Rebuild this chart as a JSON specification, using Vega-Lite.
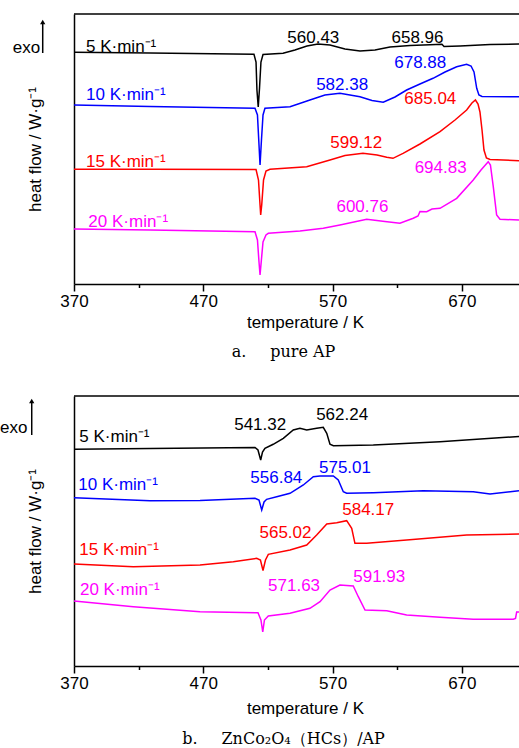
{
  "$schema": "https://vega.github.io/schema/vega-lite/v6.json",
  "padding": {"left": 0, "top": 13, "right": 0, "bottom": 0},
  "bounds": "flush",
  "spacing": 112,
  "config": {
    "view": {"stroke": null},
    "axis": {"domainColor": "black", "domainWidth": 1.5, "tickColor": "black", "tickWidth": 1.5, "labelColor": "black", "titleColor": "black", "labelFont": "Liberation Sans", "titleFont": "Liberation Sans", "labelFontSize": 17, "titleFontSize": 17, "titleFontWeight": "normal", "grid": false},
    "text": {"font": "Liberation Sans", "fontSize": 17},
    "title": {"font": "DejaVu Serif", "fontSize": 16, "fontWeight": "normal", "color": "black", "orient": "bottom", "frame": "group", "anchor": "middle", "dx": -13, "offset": 14}
  },
  "vconcat": [
    {
      "width": 445, "height": 270,
      "title": {"text": "a.\u2003\u2002pure AP"},
      "layer": [
        {
          "data": {"values": [
            {"T":370,"hf":231.7,"rate":"5"},{"T":428.8,"hf":231,"rate":"5"},{"T":509.2,"hf":229.7,"rate":"5"},{"T":510.8,"hf":222,"rate":"5"},{"T":511.5,"hf":194,"rate":"5"},{"T":512.5,"hf":177,"rate":"5"},{"T":513.5,"hf":196,"rate":"5"},{"T":514.6,"hf":222,"rate":"5"},{"T":516.2,"hf":229.5,"rate":"5"},{"T":531.7,"hf":230.7,"rate":"5"},{"T":540.9,"hf":234,"rate":"5"},{"T":550.2,"hf":238,"rate":"5"},{"T":558.7,"hf":240,"rate":"5"},{"T":568,"hf":239,"rate":"5"},{"T":579.6,"hf":235,"rate":"5"},{"T":591.2,"hf":233,"rate":"5"},{"T":602.8,"hf":234,"rate":"5"},{"T":614.4,"hf":237,"rate":"5"},{"T":629.9,"hf":238.5,"rate":"5"},{"T":645.3,"hf":239.2,"rate":"5"},{"T":654.6,"hf":239.7,"rate":"5"},{"T":656.2,"hf":237.5,"rate":"5"},{"T":668.6,"hf":238,"rate":"5"},{"T":691.8,"hf":239.5,"rate":"5"},{"T":714.2,"hf":240,"rate":"5"},
            {"T":370,"hf":179,"rate":"10"},{"T":428.8,"hf":177.5,"rate":"10"},{"T":510,"hf":175.7,"rate":"10"},{"T":511.9,"hf":169,"rate":"10"},{"T":513.1,"hf":139,"rate":"10"},{"T":513.9,"hf":119,"rate":"10"},{"T":515,"hf":144,"rate":"10"},{"T":516.2,"hf":169,"rate":"10"},{"T":517.7,"hf":175.7,"rate":"10"},{"T":537.1,"hf":177.3,"rate":"10"},{"T":552.5,"hf":184,"rate":"10"},{"T":564.1,"hf":189,"rate":"10"},{"T":575.7,"hf":190.7,"rate":"10"},{"T":591.2,"hf":187.3,"rate":"10"},{"T":600.5,"hf":183.5,"rate":"10"},{"T":609.2,"hf":181.7,"rate":"10"},{"T":618.3,"hf":187,"rate":"10"},{"T":627.3,"hf":194,"rate":"10"},{"T":637.6,"hf":200,"rate":"10"},{"T":647.7,"hf":205.7,"rate":"10"},{"T":657,"hf":212,"rate":"10"},{"T":666,"hf":217.3,"rate":"10"},{"T":673.7,"hf":219.7,"rate":"10"},{"T":677.1,"hf":218,"rate":"10"},{"T":679.4,"hf":212,"rate":"10"},{"T":681.5,"hf":195.7,"rate":"10"},{"T":683.2,"hf":189,"rate":"10"},{"T":685.6,"hf":187.5,"rate":"10"},{"T":714.2,"hf":187.3,"rate":"10"},
            {"T":370,"hf":114.7,"rate":"15"},{"T":428.8,"hf":114.7,"rate":"15"},{"T":510.8,"hf":114.5,"rate":"15"},{"T":512.7,"hf":104,"rate":"15"},{"T":513.9,"hf":79,"rate":"15"},{"T":514.4,"hf":69,"rate":"15"},{"T":515.2,"hf":79,"rate":"15"},{"T":516.6,"hf":104,"rate":"15"},{"T":518.5,"hf":113,"rate":"15"},{"T":521.6,"hf":114.7,"rate":"15"},{"T":550,"hf":117.3,"rate":"15"},{"T":568,"hf":124,"rate":"15"},{"T":579.6,"hf":128.5,"rate":"15"},{"T":593.5,"hf":130.7,"rate":"15"},{"T":604.4,"hf":129,"rate":"15"},{"T":611.9,"hf":126.7,"rate":"15"},{"T":616.7,"hf":125.7,"rate":"15"},{"T":624.5,"hf":130.7,"rate":"15"},{"T":637.6,"hf":140,"rate":"15"},{"T":653.1,"hf":152.3,"rate":"15"},{"T":664.7,"hf":164,"rate":"15"},{"T":673.7,"hf":174,"rate":"15"},{"T":677.8,"hf":181,"rate":"15"},{"T":680.5,"hf":184,"rate":"15"},{"T":682.5,"hf":180,"rate":"15"},{"T":684,"hf":172,"rate":"15"},{"T":685.6,"hf":154,"rate":"15"},{"T":687.1,"hf":134,"rate":"15"},{"T":689,"hf":126,"rate":"15"},{"T":691.8,"hf":124.5,"rate":"15"},{"T":714.2,"hf":123.3,"rate":"15"},
            {"T":370,"hf":55,"rate":"20"},{"T":428.8,"hf":54,"rate":"20"},{"T":510,"hf":52.3,"rate":"20"},{"T":511.9,"hf":44,"rate":"20"},{"T":513.1,"hf":22,"rate":"20"},{"T":513.9,"hf":9,"rate":"20"},{"T":514.8,"hf":22,"rate":"20"},{"T":516.2,"hf":42,"rate":"20"},{"T":518.5,"hf":49,"rate":"20"},{"T":520.3,"hf":50.7,"rate":"20"},{"T":544.8,"hf":53,"rate":"20"},{"T":562.8,"hf":55.7,"rate":"20"},{"T":575.7,"hf":59,"rate":"20"},{"T":596.4,"hf":64.7,"rate":"20"},{"T":610.5,"hf":62.5,"rate":"20"},{"T":622.1,"hf":60.7,"rate":"20"},{"T":632.4,"hf":65.7,"rate":"20"},{"T":636.1,"hf":68,"rate":"20"},{"T":637.6,"hf":72.5,"rate":"20"},{"T":642.8,"hf":72.3,"rate":"20"},{"T":646.9,"hf":75,"rate":"20"},{"T":653.1,"hf":75.7,"rate":"20"},{"T":666,"hf":85.7,"rate":"20"},{"T":678.8,"hf":104,"rate":"20"},{"T":684.8,"hf":114,"rate":"20"},{"T":690.4,"hf":122.3,"rate":"20"},{"T":692.1,"hf":119,"rate":"20"},{"T":694.3,"hf":97.3,"rate":"20"},{"T":696.9,"hf":69,"rate":"20"},{"T":699.5,"hf":64.7,"rate":"20"},{"T":714.2,"hf":64,"rate":"20"}
          ]},
          "mark": {"type": "line", "strokeWidth": 1.5, "clip": true},
          "encoding": {
            "x": {"field": "T", "type": "quantitative", "scale": {"domain": [370, 714.2], "nice": false, "zero": false},
              "axis": {"values": [370,420,470,520,570,620,670], "labelExpr": "datum.value % 100 == 70 ? datum.label : ''", "tickSize": 7, "tickDash": {"condition": {"test": "datum.value % 100 != 70", "value": [3.5, 20]}, "value": [20, 0]}, "labelFlush": false, "labelOverlap": false, "labelPadding": 2, "title": "temperature / K", "titlePadding": 5, "titleX": 231}},
            "y": {"field": "hf", "type": "quantitative", "scale": {"domain": [0, 270], "nice": false, "zero": false},
              "axis": {"title": "heat flow / W·g⁻¹", "labels": false, "ticks": false, "titlePadding": 30}},
            "color": {"field": "rate", "type": "nominal", "scale": {"domain": ["5","10","15","20"], "range": ["#000000","#0000ff","#ff0000","#ff00ff"]}, "legend": null}
          }
        },
        {
          "data": {"values": [
            {"T":379.3,"hf":232.3,"label":"5 K·min⁻¹","rate":"5"},
            {"T":379.3,"hf":184,"label":"10 K·min⁻¹","rate":"10"},
            {"T":379.3,"hf":117.3,"label":"15 K·min⁻¹","rate":"15"},
            {"T":381.1,"hf":56.7,"label":"20 K·min⁻¹","rate":"20"}
          ]},
          "mark": {"type": "text", "align": "left", "baseline": "alphabetic"},
          "encoding": {
            "x": {"field": "T", "type": "quantitative"},
            "y": {"field": "hf", "type": "quantitative"},
            "text": {"field": "label"},
            "color": {"field": "rate", "type": "nominal", "scale": {"domain": ["5","10","15","20"], "range": ["#000000","#0000ff","#ff0000","#ff00ff"]}, "legend": null}
          }
        },
        {
          "data": {"values": [
            {"T":555.1,"hf":240.7,"label":"560.43","rate":"5"},
            {"T":635.7,"hf":240.7,"label":"658.96","rate":"5"},
            {"T":577.4,"hf":194,"label":"582.38","rate":"10"},
            {"T":637.8,"hf":215.7,"label":"678.88","rate":"10"},
            {"T":645.6,"hf":180,"label":"685.04","rate":"15"},
            {"T":588.3,"hf":135.7,"label":"599.12","rate":"15"},
            {"T":653.6,"hf":110.7,"label":"694.83","rate":"20"},
            {"T":593.1,"hf":72.3,"label":"600.76","rate":"20"}
          ]},
          "mark": {"type": "text", "align": "center", "baseline": "alphabetic"},
          "encoding": {
            "x": {"field": "T", "type": "quantitative"},
            "y": {"field": "hf", "type": "quantitative"},
            "text": {"field": "label"},
            "color": {"field": "rate", "type": "nominal", "scale": {"domain": ["5","10","15","20"], "range": ["#000000","#0000ff","#ff0000","#ff00ff"]}, "legend": null}
          }
        },
        {
          "data": {"values": [{"T":322.6,"hf":230.7,"label":"exo"}]},
          "mark": {"type": "text", "align": "left", "baseline": "alphabetic", "color": "black"},
          "encoding": {
            "x": {"field": "T", "type": "quantitative"},
            "y": {"field": "hf", "type": "quantitative"},
            "text": {"field": "label"}
          }
        },
        {
          "data": {"values": [{"T":345.8,"hf":231,"hf2":262}]},
          "mark": {"type": "rule", "color": "black", "strokeWidth": 1.5},
          "encoding": {
            "x": {"field": "T", "type": "quantitative"},
            "y": {"field": "hf", "type": "quantitative"},
            "y2": {"field": "hf2"}
          }
        },
        {
          "data": {"values": [{"T":345.8,"hf":262}]},
          "mark": {"type": "point", "shape": "triangle-up", "filled": true, "color": "black", "opacity": 1, "size": 28},
          "encoding": {
            "x": {"field": "T", "type": "quantitative"},
            "y": {"field": "hf", "type": "quantitative"}
          }
        },
        {
          "data": {"values": [{}]},
          "mark": {"type": "rule", "color": "black", "strokeWidth": 1.5},
          "encoding": {"y": {"datum": 270, "type": "quantitative"}}
        }
      ]
    },
    {
      "width": 445, "height": 270,
      "title": {"text": "b.\u2003\u2002ZnCo₂O₄（HCs）/AP", "offset": 15},
      "layer": [
        {
          "data": {"values": [
            {"T":370,"hf":216.7,"rate":"5"},{"T":428.8,"hf":217.5,"rate":"5"},{"T":510,"hf":218.5,"rate":"5"},{"T":512.3,"hf":216,"rate":"5"},{"T":514.4,"hf":206,"rate":"5"},{"T":515.8,"hf":214,"rate":"5"},{"T":517.7,"hf":217.7,"rate":"5"},{"T":524.1,"hf":221.7,"rate":"5"},{"T":531.9,"hf":227.7,"rate":"5"},{"T":539.6,"hf":236,"rate":"5"},{"T":544.8,"hf":237.7,"rate":"5"},{"T":550,"hf":236,"rate":"5"},{"T":557.7,"hf":237.7,"rate":"5"},{"T":562.8,"hf":238.7,"rate":"5"},{"T":565.5,"hf":232.7,"rate":"5"},{"T":568,"hf":221.7,"rate":"5"},{"T":570.6,"hf":220.3,"rate":"5"},{"T":601.5,"hf":221,"rate":"5"},{"T":653.1,"hf":224.3,"rate":"5"},{"T":714.2,"hf":229.5,"rate":"5"},
            {"T":370,"hf":168.3,"rate":"10"},{"T":428.8,"hf":165.3,"rate":"10"},{"T":467.5,"hf":165.5,"rate":"10"},{"T":510,"hf":167.7,"rate":"10"},{"T":513.1,"hf":166,"rate":"10"},{"T":515.2,"hf":156,"rate":"10"},{"T":517,"hf":164,"rate":"10"},{"T":519,"hf":166.7,"rate":"10"},{"T":526.8,"hf":169.3,"rate":"10"},{"T":537.1,"hf":172.7,"rate":"10"},{"T":547.4,"hf":181,"rate":"10"},{"T":555.1,"hf":189.3,"rate":"10"},{"T":560.3,"hf":190,"rate":"10"},{"T":570.6,"hf":190,"rate":"10"},{"T":574.4,"hf":186,"rate":"10"},{"T":578.3,"hf":174.3,"rate":"10"},{"T":580.9,"hf":172.7,"rate":"10"},{"T":601.5,"hf":173.3,"rate":"10"},{"T":640.2,"hf":175.3,"rate":"10"},{"T":678.8,"hf":174.3,"rate":"10"},{"T":691.8,"hf":172,"rate":"10"},{"T":714.2,"hf":175.3,"rate":"10"},
            {"T":370,"hf":102,"rate":"15"},{"T":415.9,"hf":99.3,"rate":"15"},{"T":467.5,"hf":101,"rate":"15"},{"T":493.2,"hf":104.3,"rate":"15"},{"T":511.3,"hf":107.7,"rate":"15"},{"T":514.2,"hf":106,"rate":"15"},{"T":516.2,"hf":95.5,"rate":"15"},{"T":518.1,"hf":106,"rate":"15"},{"T":520.3,"hf":111.7,"rate":"15"},{"T":537.1,"hf":116,"rate":"15"},{"T":550,"hf":121,"rate":"15"},{"T":557.7,"hf":131,"rate":"15"},{"T":565.5,"hf":142,"rate":"15"},{"T":573.2,"hf":143.3,"rate":"15"},{"T":580.9,"hf":145.3,"rate":"15"},{"T":584.8,"hf":137.7,"rate":"15"},{"T":587.3,"hf":122.7,"rate":"15"},{"T":596.4,"hf":122.7,"rate":"15"},{"T":627.3,"hf":126,"rate":"15"},{"T":673.7,"hf":131,"rate":"15"},{"T":714.2,"hf":132,"rate":"15"},
            {"T":370,"hf":65,"rate":"20"},{"T":415.9,"hf":59.3,"rate":"20"},{"T":467.5,"hf":54.3,"rate":"20"},{"T":512.3,"hf":53.3,"rate":"20"},{"T":514.6,"hf":46,"rate":"20"},{"T":516,"hf":34,"rate":"20"},{"T":517.3,"hf":46,"rate":"20"},{"T":520.3,"hf":50,"rate":"20"},{"T":537.1,"hf":52.7,"rate":"20"},{"T":552.5,"hf":57.7,"rate":"20"},{"T":560.3,"hf":64.3,"rate":"20"},{"T":568,"hf":76,"rate":"20"},{"T":575.7,"hf":81,"rate":"20"},{"T":586,"hf":80,"rate":"20"},{"T":589.9,"hf":69.3,"rate":"20"},{"T":595.1,"hf":56,"rate":"20"},{"T":611.9,"hf":55.3,"rate":"20"},{"T":627.3,"hf":51,"rate":"20"},{"T":653.1,"hf":48.7,"rate":"20"},{"T":678.8,"hf":46.7,"rate":"20"},{"T":709.8,"hf":46.7,"rate":"20"},{"T":711.5,"hf":47.5,"rate":"20"},{"T":712.4,"hf":54,"rate":"20"},{"T":714.2,"hf":54,"rate":"20"}
          ]},
          "mark": {"type": "line", "strokeWidth": 1.5, "clip": true},
          "encoding": {
            "x": {"field": "T", "type": "quantitative", "scale": {"domain": [370, 714.2], "nice": false, "zero": false},
              "axis": {"values": [370,420,470,520,570,620,670], "labelExpr": "datum.value % 100 == 70 ? datum.label : ''", "tickSize": 7, "tickDash": {"condition": {"test": "datum.value % 100 != 70", "value": [3.5, 20]}, "value": [20, 0]}, "labelFlush": false, "labelOverlap": false, "labelPadding": 2, "title": "temperature / K", "titlePadding": 9, "titleX": 231}},
            "y": {"field": "hf", "type": "quantitative", "scale": {"domain": [0, 270], "nice": false, "zero": false},
              "axis": {"title": "heat flow / W·g⁻¹", "labels": false, "ticks": false, "titlePadding": 30}},
            "color": {"field": "rate", "type": "nominal", "scale": {"domain": ["5","10","15","20"], "range": ["#000000","#0000ff","#ff0000","#ff00ff"]}, "legend": null}
          }
        },
        {
          "data": {"values": [
            {"T":374.1,"hf":224.3,"label":"5 K·min⁻¹","rate":"5"},
            {"T":373.3,"hf":176,"label":"10 K·min⁻¹","rate":"10"},
            {"T":374.1,"hf":111,"label":"15 K·min⁻¹","rate":"15"},
            {"T":374.6,"hf":71,"label":"20 K·min⁻¹","rate":"20"}
          ]},
          "mark": {"type": "text", "align": "left", "baseline": "alphabetic"},
          "encoding": {
            "x": {"field": "T", "type": "quantitative"},
            "y": {"field": "hf", "type": "quantitative"},
            "text": {"field": "label"},
            "color": {"field": "rate", "type": "nominal", "scale": {"domain": ["5","10","15","20"], "range": ["#000000","#0000ff","#ff0000","#ff00ff"]}, "legend": null}
          }
        },
        {
          "data": {"values": [
            {"T":514,"hf":236,"label":"541.32","rate":"5"},
            {"T":577.4,"hf":246,"label":"562.24","rate":"5"},
            {"T":526.5,"hf":182.7,"label":"556.84","rate":"10"},
            {"T":579.6,"hf":192.7,"label":"575.01","rate":"10"},
            {"T":533.6,"hf":127.7,"label":"565.02","rate":"15"},
            {"T":597.6,"hf":151,"label":"584.17","rate":"15"},
            {"T":540.2,"hf":75,"label":"571.63","rate":"20"},
            {"T":606.1,"hf":84.3,"label":"591.93","rate":"20"}
          ]},
          "mark": {"type": "text", "align": "center", "baseline": "alphabetic"},
          "encoding": {
            "x": {"field": "T", "type": "quantitative"},
            "y": {"field": "hf", "type": "quantitative"},
            "text": {"field": "label"},
            "color": {"field": "rate", "type": "nominal", "scale": {"domain": ["5","10","15","20"], "range": ["#000000","#0000ff","#ff0000","#ff00ff"]}, "legend": null}
          }
        },
        {
          "data": {"values": [{"T":312.8,"hf":232.7,"label":"exo"}]},
          "mark": {"type": "text", "align": "left", "baseline": "alphabetic", "color": "black"},
          "encoding": {
            "x": {"field": "T", "type": "quantitative"},
            "y": {"field": "hf", "type": "quantitative"},
            "text": {"field": "label"}
          }
        },
        {
          "data": {"values": [{"T":337.3,"hf":231,"hf2":265}]},
          "mark": {"type": "rule", "color": "black", "strokeWidth": 1.5},
          "encoding": {
            "x": {"field": "T", "type": "quantitative"},
            "y": {"field": "hf", "type": "quantitative"},
            "y2": {"field": "hf2"}
          }
        },
        {
          "data": {"values": [{"T":337.3,"hf":265}]},
          "mark": {"type": "point", "shape": "triangle-up", "filled": true, "color": "black", "opacity": 1, "size": 28},
          "encoding": {
            "x": {"field": "T", "type": "quantitative"},
            "y": {"field": "hf", "type": "quantitative"}
          }
        },
        {
          "data": {"values": [{}]},
          "mark": {"type": "rule", "color": "black", "strokeWidth": 1.5},
          "encoding": {"y": {"datum": 270, "type": "quantitative"}}
        }
      ]
    }
  ]
}
